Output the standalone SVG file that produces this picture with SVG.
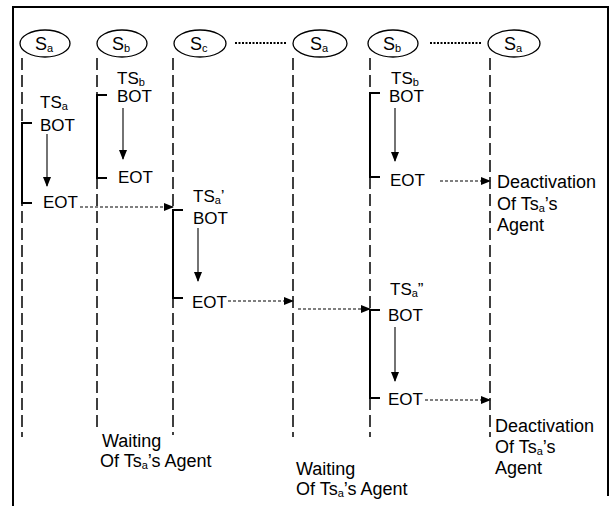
<svg xmlns="http://www.w3.org/2000/svg" width="611" height="506" viewBox="0 0 611 506">
<defs>
<marker id="ah" markerWidth="10" markerHeight="8" refX="9" refY="4" orient="auto" markerUnits="userSpaceOnUse">
<path d="M0,0 L10,4 L0,8 Z" fill="#000"/>
</marker>
</defs>
<style>
text{font-family:"Liberation Sans",Arial,sans-serif;font-size:17px;fill:#000}
.sub{font-size:11px}
.lbl{font-size:18px}
.node text{font-size:18px}
.node ellipse{fill:#fff;stroke:#000;stroke-width:1.3}
.life{stroke:#000;stroke-width:1.5;stroke-dasharray:12 5;fill:none}
.act{stroke:#000;stroke-width:2;fill:none}
.flow{stroke:#000;stroke-width:1.1;fill:none;marker-end:url(#ah)}
.msg{stroke:#000;stroke-width:1.1;stroke-dasharray:3 2;fill:none;marker-end:url(#ah)}
.dots{stroke:#000;stroke-width:2;stroke-dasharray:2 1.5;fill:none}
</style>
<rect width="611" height="506" fill="#fff"/>
<path d="M13,506 L13,7 L608,7 L608,496" fill="none" stroke="#000" stroke-width="2"/>

<g id="node-sa1" class="node"><ellipse cx="45" cy="43.5" rx="25" ry="13.5"/><text x="35" y="50">S<tspan class="sub" dy="2">a</tspan></text></g>
<g id="node-sb1" class="node"><ellipse cx="122" cy="43.5" rx="25" ry="13.5"/><text x="112" y="50">S<tspan class="sub" dy="2">b</tspan></text></g>
<g id="node-sc" class="node"><ellipse cx="200" cy="43.5" rx="26" ry="13.5"/><text x="190" y="50">S<tspan class="sub" dy="2">c</tspan></text></g>
<g id="node-sa2" class="node"><ellipse cx="320" cy="43.5" rx="27" ry="13.5"/><text x="310" y="50">S<tspan class="sub" dy="2">a</tspan></text></g>
<g id="node-sb2" class="node"><ellipse cx="393" cy="43.5" rx="25" ry="13.5"/><text x="383" y="50">S<tspan class="sub" dy="2">b</tspan></text></g>
<g id="node-sa3" class="node"><ellipse cx="514" cy="43.5" rx="26" ry="13.5"/><text x="504" y="50">S<tspan class="sub" dy="2">a</tspan></text></g>

<g id="connectors">
<line class="dots" x1="235" y1="43" x2="286" y2="43"/>
<line class="dots" x1="430" y1="43" x2="482" y2="43"/>
<line class="life" x1="22" y1="58" x2="22" y2="437"/>
<line class="life" x1="97" y1="58" x2="97" y2="432"/>
<line class="life" x1="173" y1="58" x2="173" y2="435"/>
<line class="life" x1="293" y1="58" x2="293" y2="437"/>
<line class="life" x1="370" y1="58" x2="370" y2="437"/>
<line class="life" x1="490" y1="58" x2="490" y2="437"/>
<path class="act" d="M32,123 H22 V203 H32"/>
<path class="act" d="M107,95 H97 V178 H107"/>
<path class="act" d="M183,210 H173 V298 H183"/>
<path class="act" d="M380,93 H370 V177 H380"/>
<path class="act" d="M380,310 H370 V398 H380"/>
<line class="flow" x1="47" y1="134" x2="47" y2="186"/>
<line class="flow" x1="123" y1="108" x2="123" y2="159"/>
<line class="flow" x1="198" y1="228" x2="198" y2="281"/>
<line class="flow" x1="395" y1="108" x2="395" y2="161"/>
<line class="flow" x1="395" y1="327" x2="395" y2="381"/>
<line class="msg" x1="80" y1="207" x2="173" y2="207"/>
<line class="msg" x1="228" y1="301" x2="293" y2="301"/>
<line class="msg" x1="298" y1="309" x2="370" y2="309"/>
<line class="msg" x1="440" y1="181" x2="490" y2="181"/>
<line class="msg" x1="425" y1="400" x2="490" y2="400"/>
</g>

<g id="labels">
<text x="40" y="108">TS<tspan class="sub" dy="2">a</tspan></text>
<text x="40" y="131">BOT</text>
<text x="43" y="208">EOT</text>
<text x="117" y="84">TS<tspan class="sub" dy="2">b</tspan></text>
<text x="117" y="102">BOT</text>
<text x="118" y="183">EOT</text>
<text x="193" y="202">TS<tspan class="sub" dy="2">a</tspan><tspan dy="-2">’</tspan></text>
<text x="193" y="224">BOT</text>
<text x="192" y="308">EOT</text>
<text x="391" y="84">TS<tspan class="sub" dy="2">b</tspan></text>
<text x="389" y="102">BOT</text>
<text x="390" y="186">EOT</text>
<text class="lbl" x="497" y="188">Deactivation</text>
<text class="lbl" x="497" y="210">Of Ts<tspan class="sub" dy="2">a</tspan><tspan dy="-2">’s</tspan></text>
<text class="lbl" x="497" y="231">Agent</text>
<text x="390" y="295">TS<tspan class="sub" dy="2">a</tspan><tspan dy="-2">”</tspan></text>
<text x="388" y="321">BOT</text>
<text x="388" y="405">EOT</text>
<text class="lbl" x="495" y="432">Deactivation</text>
<text class="lbl" x="495" y="453">Of Ts<tspan class="sub" dy="2">a</tspan><tspan dy="-2">’s</tspan></text>
<text class="lbl" x="495" y="474">Agent</text>
<text class="lbl" x="102" y="447">Waiting</text>
<text class="lbl" x="100" y="467">Of Ts<tspan class="sub" dy="2">a</tspan><tspan dy="-2">’s Agent</tspan></text>
<text class="lbl" x="296" y="475">Waiting</text>
<text class="lbl" x="296" y="495">Of Ts<tspan class="sub" dy="2">a</tspan><tspan dy="-2">’s Agent</tspan></text>
</g>
</svg>
